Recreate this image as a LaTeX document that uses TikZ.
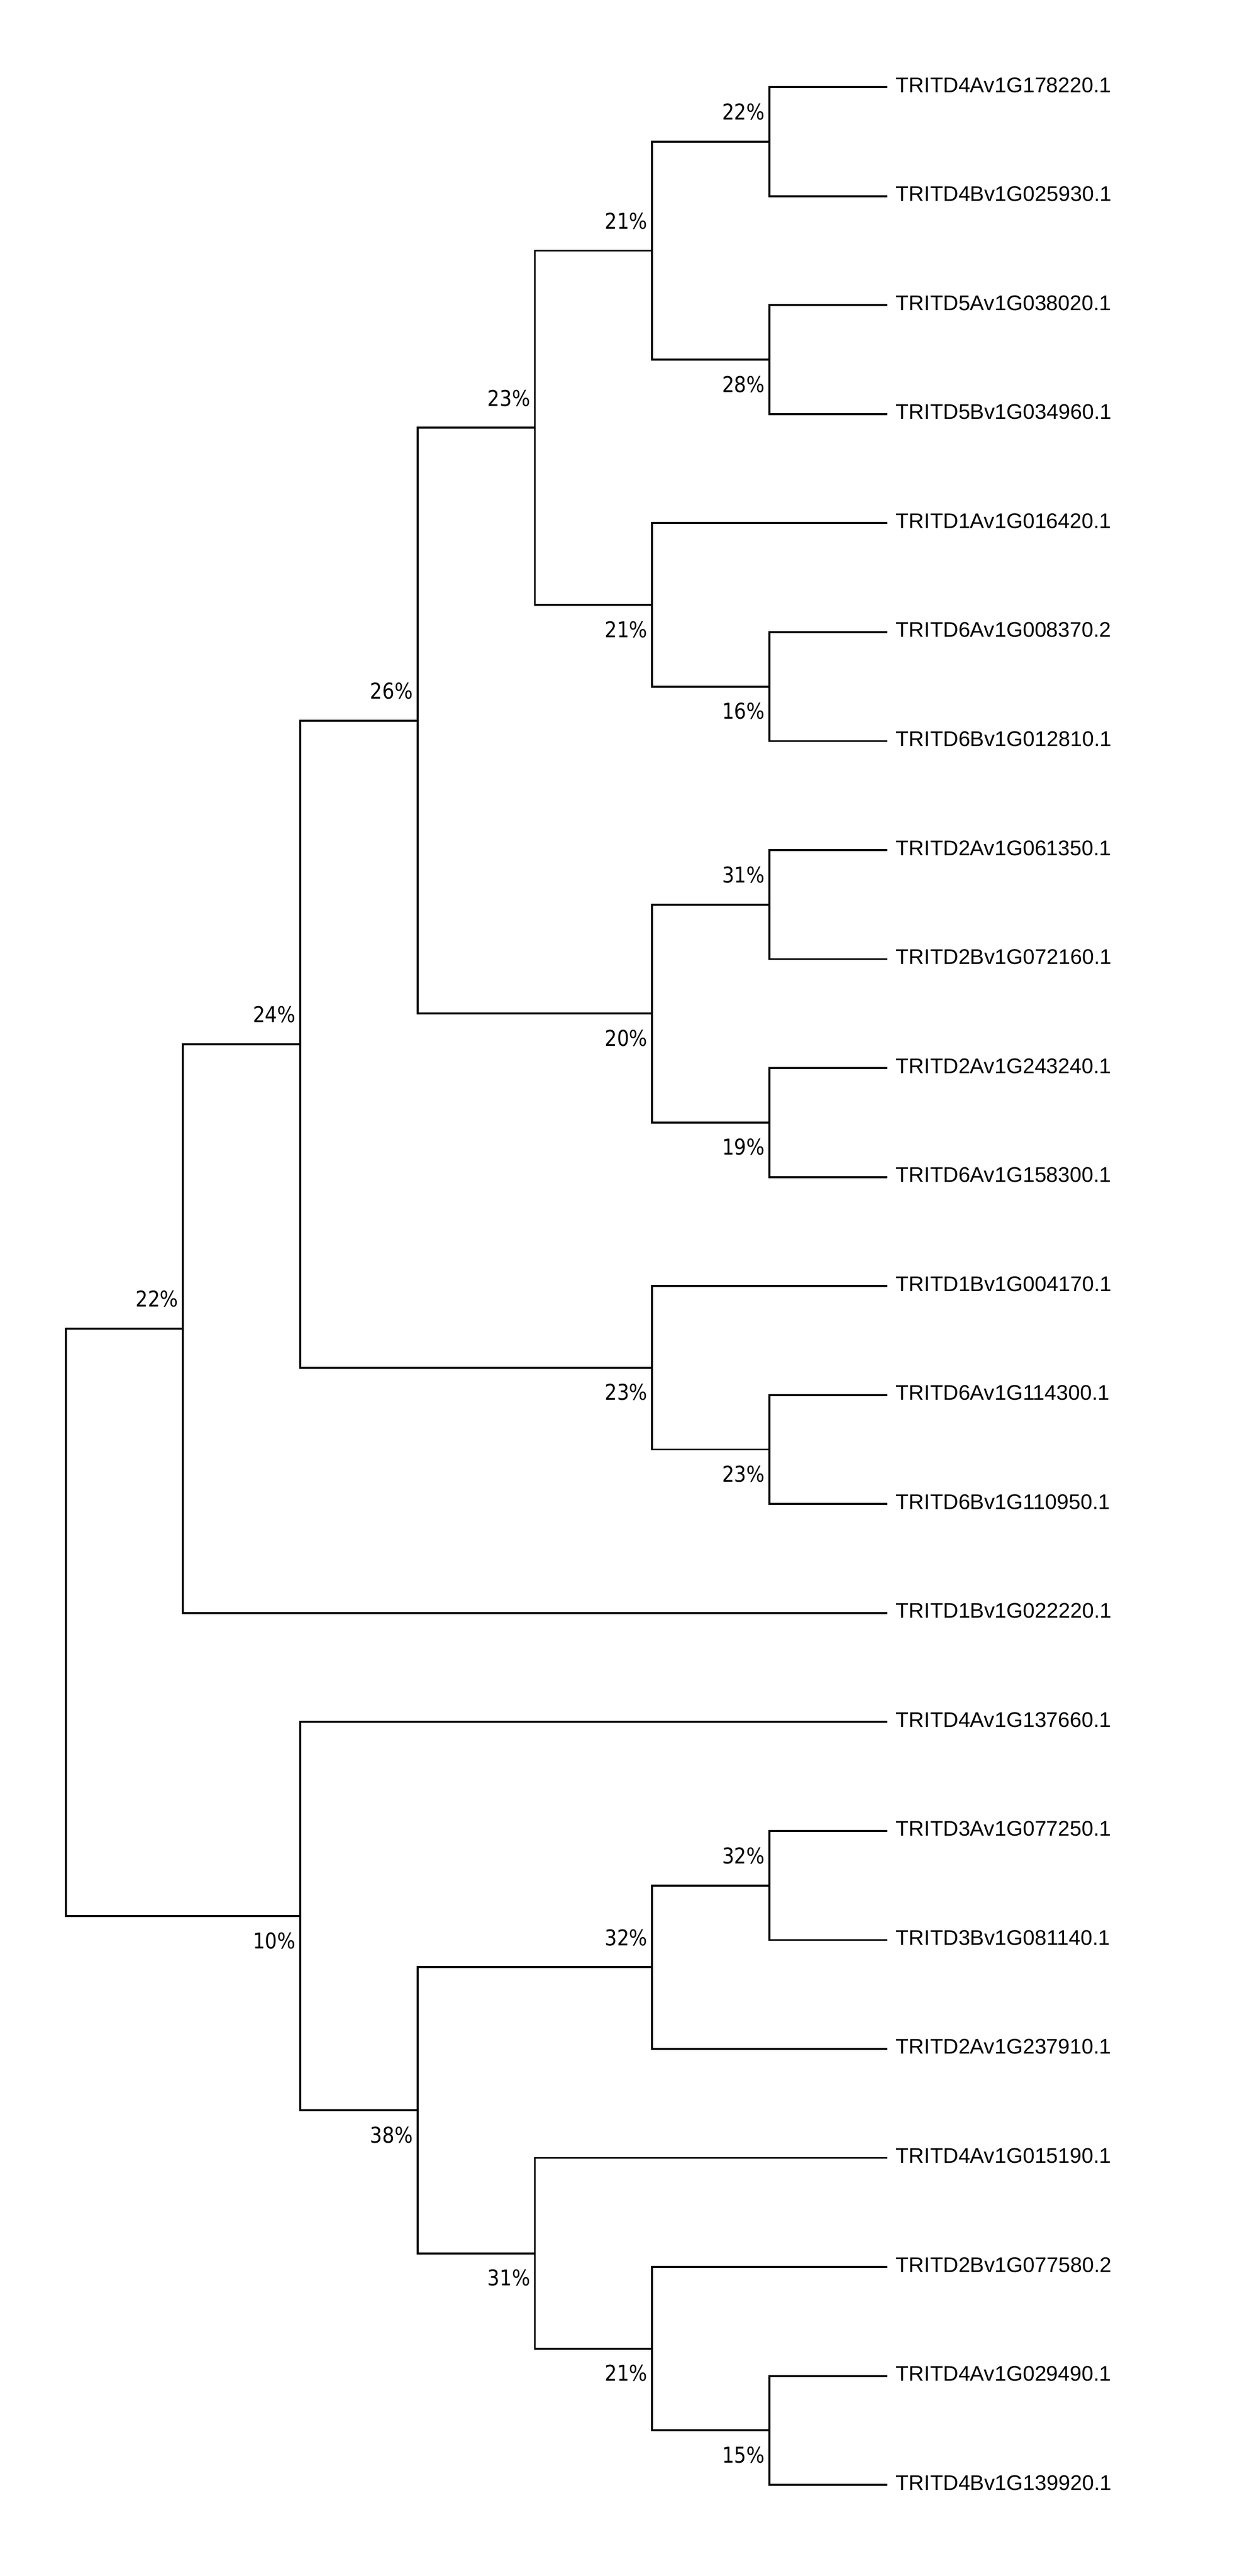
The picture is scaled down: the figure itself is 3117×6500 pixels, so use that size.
\documentclass[tikz,border=0pt]{standalone}
\usepackage{fontspec}
\setmainfont{Liberation Sans}
\newfontfamily\pctfont[FakeStretch=0.88]{DejaVu Sans}
\begin{document}
\begin{tikzpicture}[x=0.01cm,y=-0.01cm,
  br/.style={line width=0.05cm, line join=miter},
  leaf/.style={anchor=base west, inner sep=0pt, font={\fontsize{15.22pt}{18pt}\selectfont}},
  pct/.style={anchor=base east, inner sep=0pt, font={\pctfont\fontsize{15.65pt}{18pt}\selectfont}}]
\fill[white] (0,0) rectangle (3117,6500);
\useasboundingbox (0,0) rectangle (3117,6500);
% leaf tips and labels
\coordinate (l0) at (2240,220);   \node[leaf] (t0) at (2261,233) {TRITD4Av1G178220.1};
\coordinate (l1) at (2240,495);   \node[leaf] (t1) at (2261,508) {TRITD4Bv1G025930.1};
\coordinate (l2) at (2240,770);   \node[leaf] (t2) at (2261,783) {TRITD5Av1G038020.1};
\coordinate (l3) at (2240,1045);  \node[leaf] (t3) at (2261,1058) {TRITD5Bv1G034960.1};
\coordinate (l4) at (2240,1320);  \node[leaf] (t4) at (2261,1333) {TRITD1Av1G016420.1};
\coordinate (l5) at (2240,1595);  \node[leaf] (t5) at (2261,1608) {TRITD6Av1G008370.2};
\coordinate (l6) at (2240,1870);  \node[leaf] (t6) at (2261,1883) {TRITD6Bv1G012810.1};
\coordinate (l7) at (2240,2145);  \node[leaf] (t7) at (2261,2158) {TRITD2Av1G061350.1};
\coordinate (l8) at (2240,2420);  \node[leaf] (t8) at (2261,2433) {TRITD2Bv1G072160.1};
\coordinate (l9) at (2240,2695);  \node[leaf] (t9) at (2261,2708) {TRITD2Av1G243240.1};
\coordinate (l10) at (2240,2970); \node[leaf] (t10) at (2261,2983) {TRITD6Av1G158300.1};
\coordinate (l11) at (2240,3245); \node[leaf] (t11) at (2261,3258) {TRITD1Bv1G004170.1};
\coordinate (l12) at (2240,3520); \node[leaf] (t12) at (2261,3533) {TRITD6Av1G114300.1};
\coordinate (l13) at (2240,3795); \node[leaf] (t13) at (2261,3808) {TRITD6Bv1G110950.1};
\coordinate (l14) at (2240,4070); \node[leaf] (t14) at (2261,4083) {TRITD1Bv1G022220.1};
\coordinate (l15) at (2240,4345); \node[leaf] (t15) at (2261,4358) {TRITD4Av1G137660.1};
\coordinate (l16) at (2240,4620); \node[leaf] (t16) at (2261,4633) {TRITD3Av1G077250.1};
\coordinate (l17) at (2240,4895); \node[leaf] (t17) at (2261,4908) {TRITD3Bv1G081140.1};
\coordinate (l18) at (2240,5170); \node[leaf] (t18) at (2261,5183) {TRITD2Av1G237910.1};
\coordinate (l19) at (2240,5445); \node[leaf] (t19) at (2261,5458) {TRITD4Av1G015190.1};
\coordinate (l20) at (2240,5720); \node[leaf] (t20) at (2261,5733) {TRITD2Bv1G077580.2};
\coordinate (l21) at (2240,5995); \node[leaf] (t21) at (2261,6008) {TRITD4Av1G029490.1};
\coordinate (l22) at (2240,6270); \node[leaf] (t22) at (2261,6283) {TRITD4Bv1G139920.1};
% internal nodes
\coordinate (nA) at (1942,357.5);
\coordinate (nB) at (1942,907.5);
\coordinate (nC) at (1646,632.5);
\coordinate (nD) at (1942,1732.5);
\coordinate (nE) at (1646,1526.25);
\coordinate (nF) at (1350,1079.375);
\coordinate (nG) at (1942,2282.5);
\coordinate (nH) at (1942,2832.5);
\coordinate (nI) at (1646,2557.5);
\coordinate (nJ) at (1054,1818.44);
\coordinate (nK) at (1942,3657.5);
\coordinate (nL) at (1646,3451.25);
\coordinate (nM) at (758,2634.84);
\coordinate (nN) at (462,3352.42);
\coordinate (nO) at (1942,4757.5);
\coordinate (nP) at (1646,4963.75);
\coordinate (nQ) at (1942,6132.5);
\coordinate (nR) at (1646,5926.25);
\coordinate (nS) at (1350,5685.6);
\coordinate (nT) at (1054,5324.7);
\coordinate (nU) at (758,4834.8);
\coordinate (root) at (166,4093.6);
% branches
\draw[br] (l0) -| (nA) |- (l1);
\draw[br] (l2) -| (nB) |- (l3);
\draw[br] (nA) -| (nC) |- (nB);
\draw[br] (l5) -| (nD) |- (l6);
\draw[br] (l4) -| (nE) |- (nD);
\draw[br] (nC) -| (nF) |- (nE);
\draw[br] (l7) -| (nG) |- (l8);
\draw[br] (l9) -| (nH) |- (l10);
\draw[br] (nG) -| (nI) |- (nH);
\draw[br] (nF) -| (nJ) |- (nI);
\draw[br] (l12) -| (nK) |- (l13);
\draw[br] (l11) -| (nL) |- (nK);
\draw[br] (nJ) -| (nM) |- (nL);
\draw[br] (nM) -| (nN) |- (l14);
\draw[br] (l16) -| (nO) |- (l17);
\draw[br] (nO) -| (nP) |- (l18);
\draw[br] (l21) -| (nQ) |- (l22);
\draw[br] (l20) -| (nR) |- (nQ);
\draw[br] (l19) -| (nS) |- (nR);
\draw[br] (nP) -| (nT) |- (nS);
\draw[br] (l15) -| (nU) |- (nT);
\draw[br] (nN) -| (root) |- (nU);
% support values
\node[pct] (pA) at (1931,302.5) {22\%};
\node[pct] (pB) at (1931,989.5) {28\%};
\node[pct] (pC) at (1635,577.5) {21\%};
\node[pct] (pD) at (1931,1814.5) {16\%};
\node[pct] (pE) at (1635,1608.25) {21\%};
\node[pct] (pF) at (1339,1024.4) {23\%};
\node[pct] (pG) at (1931,2227.5) {31\%};
\node[pct] (pH) at (1931,2914.5) {19\%};
\node[pct] (pI) at (1635,2639.5) {20\%};
\node[pct] (pJ) at (1043,1763.4) {26\%};
\node[pct] (pK) at (1931,3739.5) {23\%};
\node[pct] (pL) at (1635,3533.25) {23\%};
\node[pct] (pM) at (747,2579.8) {24\%};
\node[pct] (pN) at (451,3297.4) {22\%};
\node[pct] (pO) at (1931,4702.5) {32\%};
\node[pct] (pP) at (1635,4908.75) {32\%};
\node[pct] (pQ) at (1931,6214.5) {15\%};
\node[pct] (pR) at (1635,6008.25) {21\%};
\node[pct] (pS) at (1339,5767.6) {31\%};
\node[pct] (pT) at (1043,5406.7) {38\%};
\node[pct] (pU) at (747,4916.8) {10\%};
\end{tikzpicture}
\end{document}
